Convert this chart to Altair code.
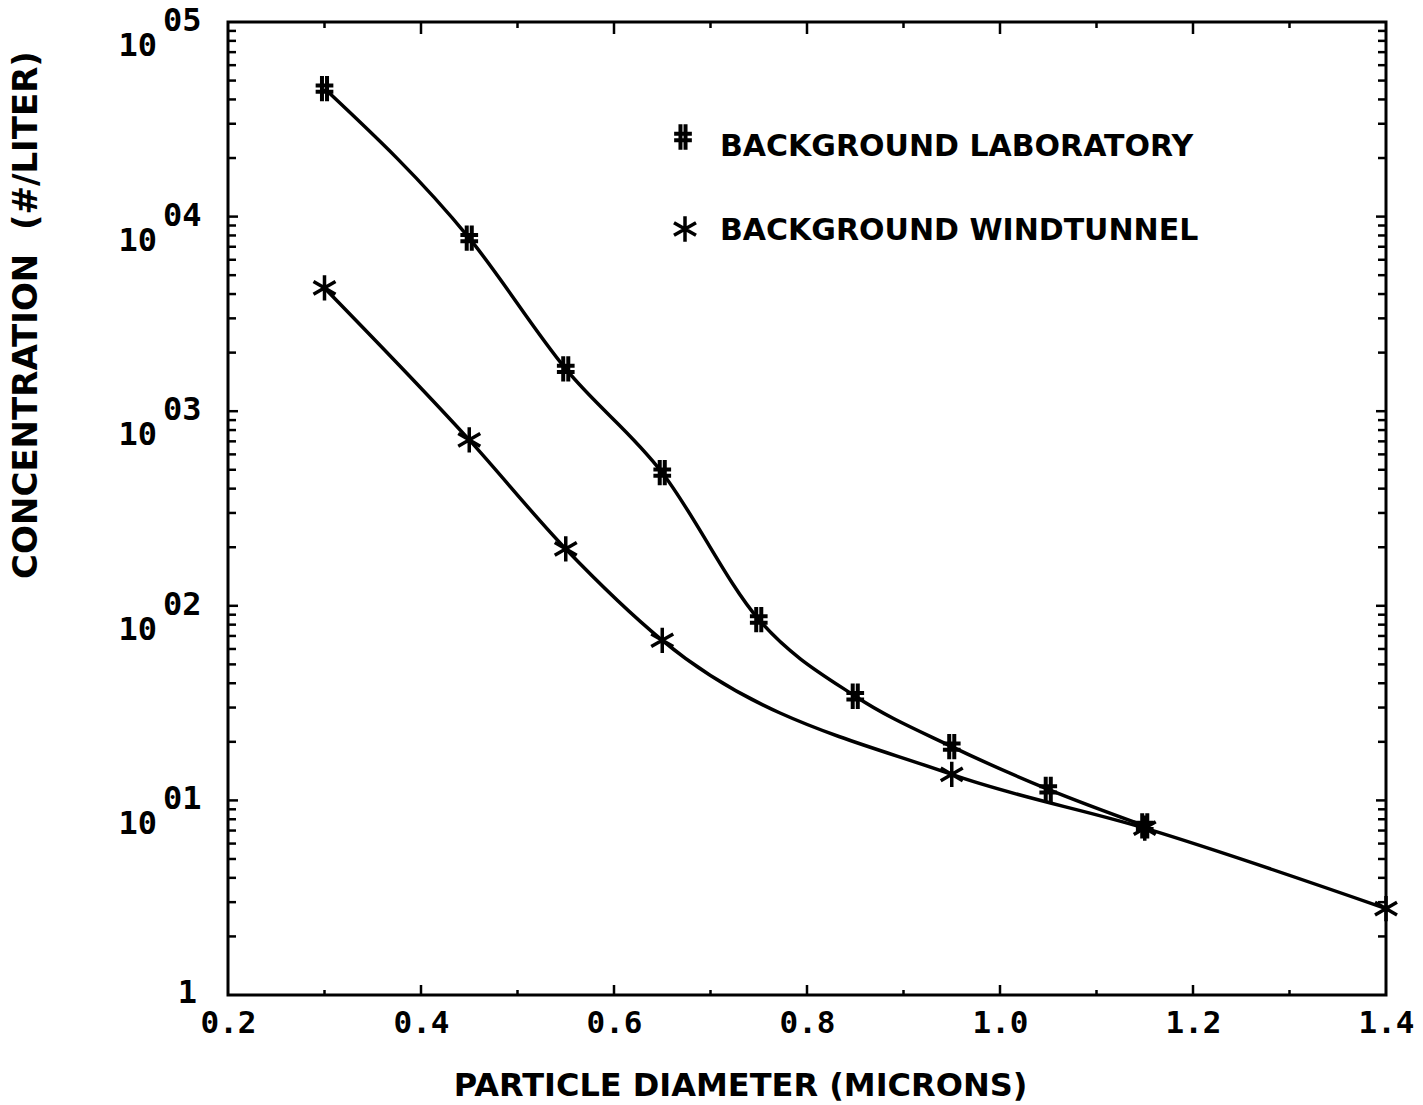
import altair as alt
import pandas as pd

# ---- data ----
lab_d = [0.30, 0.45, 0.55, 0.65, 0.75, 0.85, 0.95, 1.05, 1.15]
lab_c = [45500, 7750, 1650, 483, 85, 34.3, 18.9, 11.4, 7.4]
wind_d = [0.30, 0.45, 0.55, 0.65, 0.95, 1.15, 1.40]
wind_c = [4300, 712, 196, 66.5, 13.6, 7.2, 2.78]

x_tick_labels = [0.2, 0.4, 0.6, 0.8, 1.0, 1.2, 1.4]
x_major_inner = [0.4, 0.6, 0.8, 1.0, 1.2]
x_minor = [0.3, 0.5, 0.7, 0.9, 1.1, 1.3]
y_decades = [10, 100, 1000, 10000, 100000]
y_exponents = ["01", "02", "03", "04", "05"]
y_major_inner = [10, 100, 1000, 10000]
y_minor = [m * 10 ** e for e in range(5) for m in range(2, 10)]
legend_labels = ["BACKGROUND LABORATORY", "BACKGROUND WINDTUNNEL"]
x_title = "PARTICLE DIAMETER (MICRONS)"
y_title = "CONCENTRATION\u00a0\u00a0(#/LITER)"

# ---- layout ----
W, H = 1158, 973
MONO = "DejaVu Sans Mono"
SANS = "DejaVu Sans"
PLUS_PATH = "M-0.2,-1L-0.2,1M0.2,-1L0.2,1M-0.7,-0.25L0.7,-0.25M-0.7,0.25L0.7,0.25"
STAR_PATH = "M0,-1L0,1M-0.87,-0.5L0.87,0.5M-0.87,0.5L0.87,-0.5"
MSIZE = 640

lab = pd.DataFrame({"d": lab_d, "c": lab_c})
wind = pd.DataFrame({"d": wind_d, "c": wind_c})

xs = alt.Scale(domain=[0.2, 1.4], nice=False, zero=False)
ys = alt.Scale(type="log", domain=[1, 100000], nice=False)
xaxis = alt.Axis(
    values=x_tick_labels, format=".1f", domain=False, ticks=False, grid=False,
    labelFont=MONO, labelFontSize=31, labelFontWeight="bold", labelColor="black",
    labelPadding=13, labelFlush=False, labelOverlap=False,
    title=x_title, titleFont=SANS, titleFontSize=32, titleFontWeight="bold",
    titleColor="black", titleX=512, titleY=100, titleAlign="center",
    titleBaseline="alphabetic", titleAnchor="start",
)
X = alt.X("d:Q", scale=xs, axis=xaxis)
Y = alt.Y("c:Q", scale=ys, axis=None)

LW = 3.5
lab_line = alt.Chart(lab).mark_line(color="black", strokeWidth=LW, interpolate="monotone").encode(x=X, y=Y)
wind_line = alt.Chart(wind).mark_line(color="black", strokeWidth=LW, interpolate="monotone").encode(x=X, y=Y)
lab_pts = alt.Chart(lab).mark_point(shape=PLUS_PATH, size=MSIZE, filled=False, color="black",
                                    strokeWidth=4, opacity=1).encode(x=X, y=Y)
wind_pts = alt.Chart(wind).mark_point(shape=STAR_PATH, size=MSIZE, filled=False, color="black",
                                      strokeWidth=3.5, opacity=1).encode(x=X, y=Y)

# ---- inward ticks ----
def yrule(vals, x0, x1):
    return alt.Chart(pd.DataFrame({"c": vals})).mark_rule(color="black", strokeWidth=2.5).encode(
        y=Y, x=alt.value(x0), x2=alt.value(x1))

def xrule(vals, y0, y1):
    return alt.Chart(pd.DataFrame({"d": vals})).mark_rule(color="black", strokeWidth=2.5).encode(
        x=X, y=alt.value(y0), y2=alt.value(y1))

ticks = [
    yrule(y_minor, 0, 8), yrule(y_major_inner, 0, 10),
    yrule(y_minor, W - 8, W), yrule(y_major_inner, W - 10, W),
    xrule(x_minor, H, H - 5), xrule(x_major_inner, H, H - 10),
    xrule(x_minor, 0, 6), xrule(x_major_inner, 0, 12),
]

# ---- y labels (10 with exponent) ----
ylab = pd.DataFrame({"c": y_decades, "e": y_exponents})
ybase = alt.Chart(ylab).mark_text(text="10", align="right", baseline="alphabetic", dy=34,
                                  font=MONO, fontSize=32, fontWeight="bold", color="black").encode(
    y=Y, x=alt.value(-71))
ysup = alt.Chart(ylab).mark_text(align="left", baseline="alphabetic", dy=9,
                                 font=MONO, fontSize=32, fontWeight="bold", color="black").encode(
    y=Y, x=alt.value(-65), text="e:N")
yone = alt.Chart(pd.DataFrame({"c": [1], "t": ["1"]})).mark_text(
    align="right", baseline="alphabetic", dy=8, font=MONO, fontSize=32, fontWeight="bold",
    color="black").encode(y=Y, x=alt.value(-31), text="t:N")
ytitle = alt.Chart(pd.DataFrame({"t": [y_title]})).mark_text(
    angle=270, align="center", baseline="alphabetic", font=SANS, fontSize=34, fontWeight="bold",
    color="black").encode(x=alt.value(-191), y=alt.value(293), text="t:N")

# ---- legend ----
leg1 = pd.DataFrame({"t": [legend_labels[0]]})
leg2 = pd.DataFrame({"t": [legend_labels[1]]})
leg_m1 = alt.Chart(leg1).mark_point(shape=PLUS_PATH, size=MSIZE, filled=False, color="black",
                                    strokeWidth=4, opacity=1).encode(x=alt.value(455), y=alt.value(115))
leg_m2 = alt.Chart(leg2).mark_point(shape=STAR_PATH, size=MSIZE, filled=False, color="black",
                                    strokeWidth=3.5, opacity=1).encode(x=alt.value(457), y=alt.value(207))
leg_t1 = alt.Chart(leg1).mark_text(align="left", baseline="alphabetic", font=SANS, fontSize=30,
                                   fontWeight="bold", color="black").encode(
    x=alt.value(492), y=alt.value(134), text="t:N")
leg_t2 = alt.Chart(leg2).mark_text(align="left", baseline="alphabetic", font=SANS, fontSize=30,
                                   fontWeight="bold", color="black").encode(
    x=alt.value(492), y=alt.value(218), text="t:N")

chart = alt.layer(
    lab_line, wind_line, lab_pts, wind_pts, *ticks,
    ybase, ysup, yone, ytitle, leg_m1, leg_m2, leg_t1, leg_t2,
).properties(
    width=W, height=H,
    padding={"left": 228, "top": 22, "right": 37, "bottom": 110},
    autosize=alt.AutoSizeParams(type="none"),
).configure(background="white").configure_view(stroke="black", strokeWidth=3)

chart.save("out.html", embed_options={"renderer": "svg", "actions": False})
